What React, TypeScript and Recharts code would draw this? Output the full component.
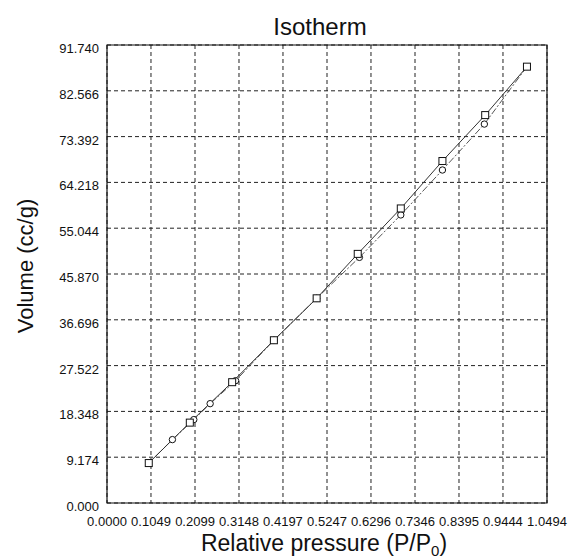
import React from 'react';
import {
  LineChart,
  Line,
  XAxis,
  YAxis,
  CartesianGrid,
  ReferenceArea,
  Customized,
} from 'recharts';

// adsorption branch (squares)
const adsPressure = [0.0996, 0.1975, 0.2985, 0.398, 0.5, 0.598, 0.7007, 0.8, 0.902, 1.0016];
const adsVolume = [8.0, 16.1, 24.2, 32.6, 41.0, 49.9, 59.0, 68.5, 77.7, 87.4];

// desorption branch (circles), runs back down from the top point
const desPressure = [1.0016, 0.9, 0.8, 0.7007, 0.602, 0.5, 0.398, 0.3067, 0.246, 0.207, 0.156, 0.0996];
const desVolume = [87.4, 75.9, 66.7, 57.7, 49.2, 41.0, 32.6, 24.5, 19.9, 16.7, 12.7, 8.0];

const xTickLabels = ['0.0000', '0.1049', '0.2099', '0.3148', '0.4197', '0.5247', '0.6296', '0.7346', '0.8395', '0.9444', '1.0494'];
const yTickLabels = ['0.000', '9.174', '18.348', '27.522', '36.696', '45.870', '55.044', '64.218', '73.392', '82.566', '91.740'];

const xTicks = xTickLabels.map(Number);
const yTicks = yTickLabels.map(Number);
const xMax = xTicks[xTicks.length - 1];
const yMax = yTicks[yTicks.length - 1];

const adsData = adsPressure.map((p, i) => ({ p, v: adsVolume[i] }));
const desData = desPressure.map((p, i) => ({ p, v: desVolume[i] }));

const FONT = '"Liberation Sans", Arial, Helvetica, sans-serif';

const SquareDot = (props: any) => {
  const { cx, cy, index } = props;
  if (cx == null || cy == null) return <g key={index} />;
  return (
    <rect key={index} x={cx - 3.5} y={cy - 3.5} width={7} height={7} fill="#fff" stroke="#111" strokeWidth={1} />
  );
};

const CircleDot = (props: any) => {
  const { cx, cy, index } = props;
  // first and last points are shared with the adsorption branch
  if (cx == null || cy == null || index === 0 || index === desData.length - 1) return <g key={index} />;
  return <circle key={index} cx={cx} cy={cy} r={3.2} fill="#fff" stroke="#111" strokeWidth={1} />;
};

const XTick = (props: any) => {
  const { x, y, payload, index } = props;
  return (
    <text x={x} y={y + 15} textAnchor="middle" fontSize={13} fontFamily={FONT} fill="#111">
      {xTickLabels[index] ?? payload.value}
    </text>
  );
};

const YTick = (props: any) => {
  const { x, y, payload, index } = props;
  return (
    <text x={x} y={y + 8} textAnchor="end" fontSize={13} fontFamily={FONT} fill="#111">
      {yTickLabels[index] ?? payload.value}
    </text>
  );
};

const Title = () => (
  <text x={320} y={35} textAnchor="middle" fontSize={24} fontFamily={FONT} fill="#111">
    Isotherm
  </text>
);

export default function App() {
  return (
    <div style={{ position: 'absolute', left: 0, top: 0, background: '#fff' }}>
      <LineChart width={580} height={559} margin={{ top: 45, right: 33, bottom: 26, left: 7 }}>
        <CartesianGrid stroke="#222" strokeDasharray="4 3" strokeWidth={1} />
        <XAxis
          type="number"
          dataKey="p"
          domain={[0, xMax]}
          ticks={xTicks}
          interval={0}
          tickLine={false}
          axisLine={false}
          height={30}
          tick={<XTick />}
          allowDataOverflow
          label={{
            content: ({ viewBox }: any) => (
              <text
                x={viewBox.x + viewBox.width / 2 - 3}
                y={viewBox.y + 48}
                textAnchor="middle"
                fontSize={23}
                fontFamily={FONT}
                fill="#111"
              >
                Relative pressure (P/P
                <tspan fontSize={15} dy={5}>0</tspan>
                <tspan dy={-5}>)</tspan>
              </text>
            ),
          }}
        />
        <YAxis
          type="number"
          dataKey="v"
          domain={[0, yMax]}
          ticks={yTicks}
          interval={0}
          tickLine={false}
          axisLine={false}
          width={100}
          tick={<YTick />}
          allowDataOverflow
          label={{
            content: () => (
              <text
                x={25}
                y={266}
                transform="rotate(-90 25 266)"
                textAnchor="middle"
                dominantBaseline="central"
                fontSize={22}
                fontFamily={FONT}
                fill="#111"
              >
                Volume (cc/g)
              </text>
            ),
          }}
        />
        <ReferenceArea x1={0} x2={xMax} y1={0} y2={yMax} fill="none" stroke="#111" strokeWidth={1.2} ifOverflow="visible" />
        <Line
          data={desData}
          dataKey="v"
          type="linear"
          stroke="#555"
          strokeWidth={1}
          strokeDasharray="7 2 2 2"
          dot={<CircleDot />}
          activeDot={false}
          isAnimationActive={false}
        />
        <Line
          data={adsData}
          dataKey="v"
          type="linear"
          stroke="#333"
          strokeWidth={1}
          dot={<SquareDot />}
          activeDot={false}
          isAnimationActive={false}
        />
        <Customized component={Title} />
      </LineChart>
    </div>
  );
}
